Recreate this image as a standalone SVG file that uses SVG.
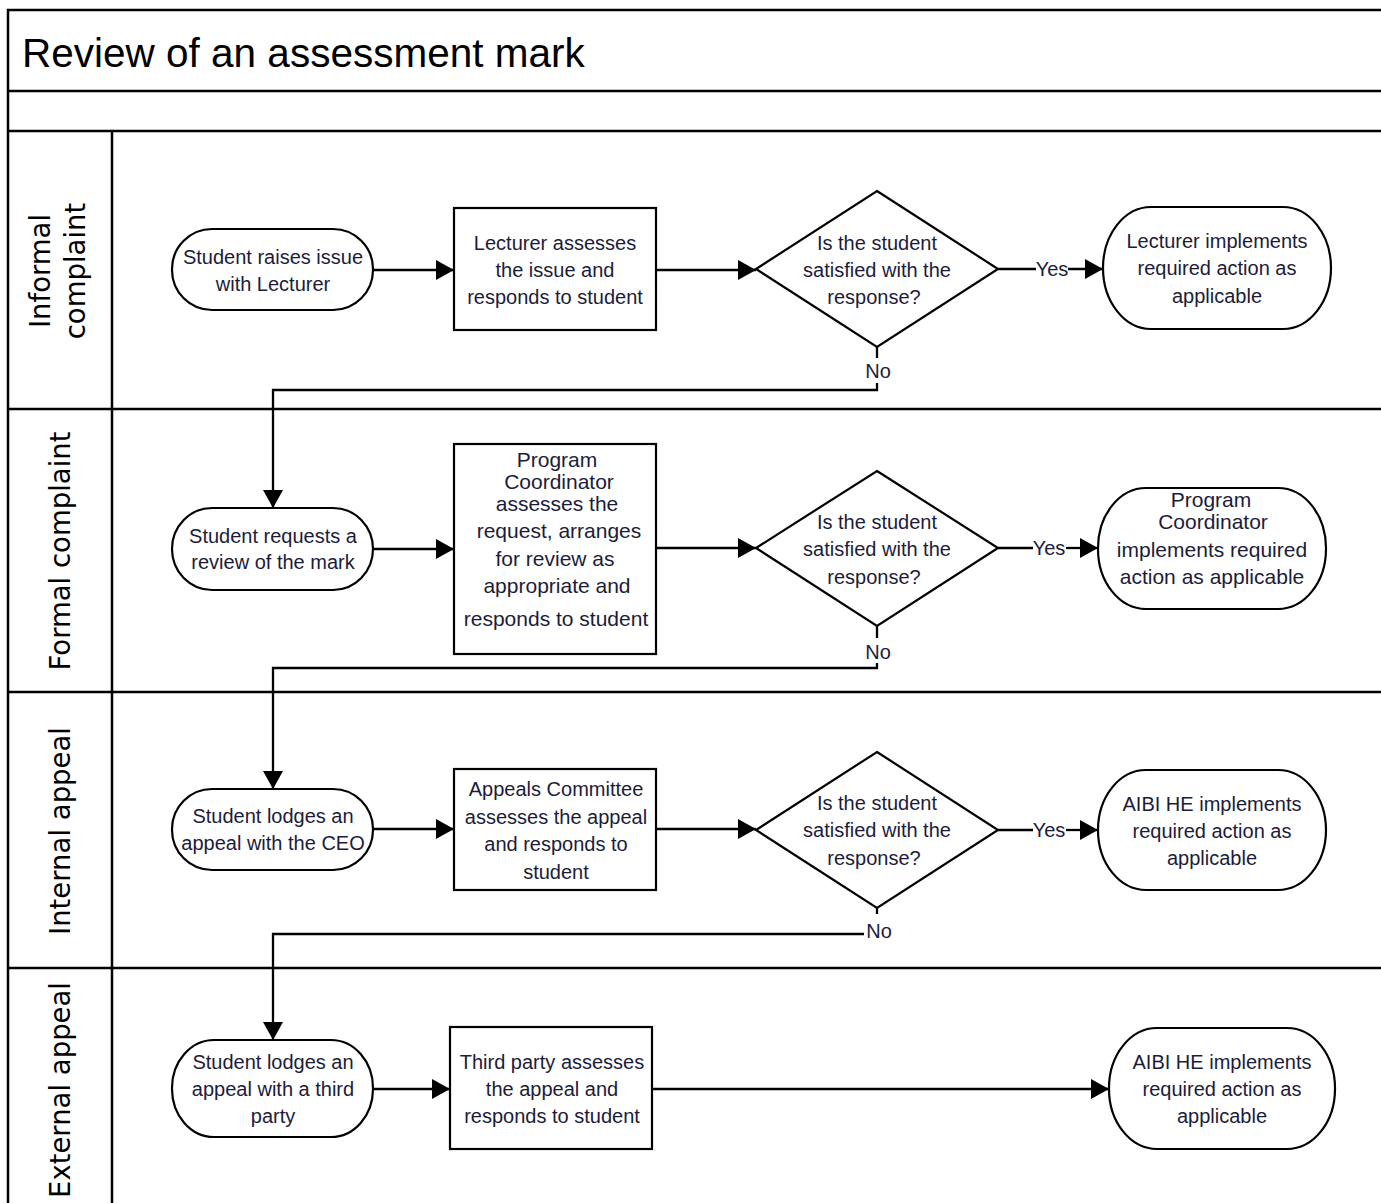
<svg xmlns="http://www.w3.org/2000/svg" width="1381" height="1203" viewBox="0 0 1381 1203">
<style>
.frame{stroke:#000;stroke-width:2.5;fill:none}
.shape{stroke:#000;stroke-width:2.2;fill:#fff}
.conn{stroke:#000;stroke-width:2.3;fill:none}
.t{font-family:"Liberation Sans",Arial,sans-serif;font-size:20px;fill:#1c1c3a;text-anchor:middle}
.t2{font-size:21px}
.lane{font-family:"DejaVu Sans",Verdana,sans-serif;font-size:27.5px;fill:#000;text-anchor:middle}
.title{font-family:"Liberation Sans",Arial,sans-serif;font-size:40.5px;fill:#000}
</style>
<defs>
<marker id="ah" markerWidth="18" markerHeight="20" refX="18" refY="10" orient="auto" markerUnits="userSpaceOnUse"><path d="M0,0 L18,10 L0,20 z" fill="#000"/></marker>
</defs>
<rect width="1381" height="1203" fill="#fff"/>
<g id="pool">
<path class="frame" d="M8,1203 V10 H1381 M8,91 H1381 M8,131 H1381 M8,409 H1381 M8,692 H1381 M8,968 H1381 M112,131 V1203"/>
<text class="title" x="22" y="67">Review of an assessment mark</text>
</g>
<g id="lanes">
<text class="lane" transform="rotate(-90 50 271)" x="50" y="271">Informal</text>
<text class="lane" transform="rotate(-90 85 271)" x="85" y="271">complaint</text>
<text class="lane" transform="rotate(-90 70 551)" x="70" y="551">Formal complaint</text>
<text class="lane" transform="rotate(-90 70 831)" x="70" y="831">Internal appeal</text>
<text class="lane" transform="rotate(-90 70 1090)" x="70" y="1090">External appeal</text>
</g>
<g id="connectors">
<path class="conn" d="M373,270 H454" marker-end="url(#ah)"/>
<path class="conn" d="M656,270 H756" marker-end="url(#ah)"/>
<path class="conn" d="M998,269 H1036"/>
<path class="conn" d="M1068,269 H1103" marker-end="url(#ah)"/>
<path class="conn" d="M877,347 V358"/>
<path class="conn" d="M877,383 V390 H273 V508" marker-end="url(#ah)"/>
<text class="t" x="1052" y="276">Yes</text>
<text class="t" x="878" y="378">No</text>

<path class="conn" d="M373,549 H454" marker-end="url(#ah)"/>
<path class="conn" d="M656,548 H756" marker-end="url(#ah)"/>
<path class="conn" d="M998,548 H1033"/>
<path class="conn" d="M1066,548 H1098" marker-end="url(#ah)"/>
<path class="conn" d="M877,626 V638"/>
<path class="conn" d="M877,663 V668 H273 V789" marker-end="url(#ah)"/>
<text class="t" x="1049" y="555">Yes</text>
<text class="t" x="878" y="659">No</text>

<path class="conn" d="M373,829 H454" marker-end="url(#ah)"/>
<path class="conn" d="M656,829 H756" marker-end="url(#ah)"/>
<path class="conn" d="M998,830 H1033"/>
<path class="conn" d="M1066,830 H1098" marker-end="url(#ah)"/>
<path class="conn" d="M877,908 V914"/>
<path class="conn" d="M864,934 H273 V1040" marker-end="url(#ah)"/>
<text class="t" x="1049" y="837">Yes</text>
<text class="t" x="879" y="938">No</text>

<path class="conn" d="M373,1089 H450" marker-end="url(#ah)"/>
<path class="conn" d="M652,1089 H1109" marker-end="url(#ah)"/>
</g>

<g id="n1">
<rect class="shape" x="172" y="229" width="201" height="81" rx="40" ry="40"/>
<text class="t" x="273" y="264">Student raises issue</text>
<text class="t" x="273" y="291">with Lecturer</text>
</g>
<g id="n2">
<rect class="shape" x="454" y="208" width="202" height="122"/>
<text class="t" x="555" y="250">Lecturer assesses</text>
<text class="t" x="555" y="277">the issue and</text>
<text class="t" x="555" y="304">responds to student</text>
</g>
<g id="n3">
<polygon class="shape" points="877,191 998,269 877,347 756,269"/>
<text class="t" x="877" y="250">Is the student</text>
<text class="t" x="877" y="277">satisfied with the</text>
<text class="t" x="874" y="304">response?</text>
</g>
<g id="n4">
<rect class="shape" x="1103" y="207" width="228" height="122" rx="48" ry="61"/>
<text class="t" x="1217" y="248">Lecturer implements</text>
<text class="t" x="1217" y="275">required action as</text>
<text class="t" x="1217" y="303">applicable</text>
</g>

<g id="n5">
<rect class="shape" x="172" y="508" width="201" height="82" rx="40" ry="41"/>
<text class="t" x="273" y="543">Student requests a</text>
<text class="t" x="273" y="569">review of the mark</text>
</g>
<g id="n6">
<rect class="shape" x="454" y="444" width="202" height="210"/>
<text class="t t2" x="557" y="467">Program</text>
<text class="t t2" x="559" y="489">Coordinator</text>
<text class="t t2" x="557" y="511">assesses the</text>
<text class="t t2" x="559" y="538">request, arranges</text>
<text class="t t2" x="555" y="566">for review as</text>
<text class="t t2" x="557" y="593">appropriate and</text>
<text class="t t2" x="556" y="626">responds to student</text>
</g>
<g id="n7">
<polygon class="shape" points="877,471 998,548 877,626 756,548"/>
<text class="t" x="877" y="529">Is the student</text>
<text class="t" x="877" y="556">satisfied with the</text>
<text class="t" x="874" y="584">response?</text>
</g>
<g id="n8">
<rect class="shape" x="1098" y="488" width="228" height="121" rx="48" ry="60"/>
<text class="t t2" x="1211" y="507">Program</text>
<text class="t t2" x="1213" y="529">Coordinator</text>
<text class="t t2" x="1212" y="557">implements required</text>
<text class="t t2" x="1212" y="584">action as applicable</text>
</g>

<g id="n9">
<rect class="shape" x="172" y="789" width="201" height="81" rx="40" ry="40"/>
<text class="t" x="273" y="823">Student lodges an</text>
<text class="t" x="273" y="850">appeal with the CEO</text>
</g>
<g id="n10">
<rect class="shape" x="454" y="769" width="202" height="121"/>
<text class="t" x="556" y="796">Appeals Committee</text>
<text class="t" x="556" y="824">assesses the appeal</text>
<text class="t" x="556" y="851">and responds to</text>
<text class="t" x="556" y="879">student</text>
</g>
<g id="n11">
<polygon class="shape" points="877,752 998,830 877,908 756,830"/>
<text class="t" x="877" y="810">Is the student</text>
<text class="t" x="877" y="837">satisfied with the</text>
<text class="t" x="874" y="865">response?</text>
</g>
<g id="n12">
<rect class="shape" x="1098" y="770" width="228" height="120" rx="48" ry="60"/>
<text class="t" x="1212" y="811">AIBI HE implements</text>
<text class="t" x="1212" y="838">required action as</text>
<text class="t" x="1212" y="865">applicable</text>
</g>

<g id="n13">
<rect class="shape" x="172" y="1040" width="201" height="97" rx="42" ry="48"/>
<text class="t" x="273" y="1069">Student lodges an</text>
<text class="t" x="273" y="1096">appeal with a third</text>
<text class="t" x="273" y="1123">party</text>
</g>
<g id="n14">
<rect class="shape" x="450" y="1027" width="202" height="122"/>
<text class="t" x="552" y="1069">Third party assesses</text>
<text class="t" x="552" y="1096">the appeal and</text>
<text class="t" x="552" y="1123">responds to student</text>
</g>
<g id="n15">
<rect class="shape" x="1109" y="1028" width="226" height="121" rx="48" ry="60"/>
<text class="t" x="1222" y="1069">AIBI HE implements</text>
<text class="t" x="1222" y="1096">required action as</text>
<text class="t" x="1222" y="1123">applicable</text>
</g>
</svg>
